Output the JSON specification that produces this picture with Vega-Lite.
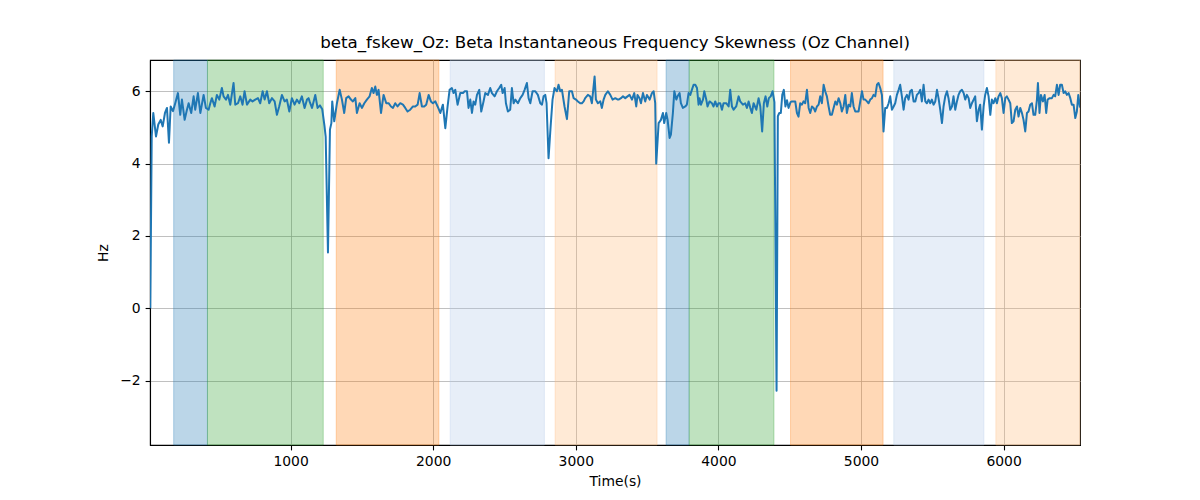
{
  "$schema": "https://vega.github.io/schema/vega-lite/v6.json",
  "width": 930,
  "height": 385,
  "autosize": "none",
  "padding": {"left": 150, "top": 60, "right": 120, "bottom": 55},
  "background": "white",
  "title": {"text": "beta_fskew_Oz: Beta Instantaneous Frequency Skewness (Oz Channel)", "font": "DejaVu Sans", "fontSize": 16.7, "fontWeight": "normal", "color": "#000", "anchor": "middle", "offset": 8},
  "config": {
    "view": {"stroke": "#000", "strokeWidth": 1.1},
    "axis": {"domainColor": "#000", "domainWidth": 1.1, "tickColor": "#000", "tickWidth": 1.1, "tickSize": 4.9, "labelPadding": 4.9, "labelColor": "#000", "titleColor": "#000", "labelFont": "DejaVu Sans", "titleFont": "DejaVu Sans", "labelFontSize": 13.9, "titleFontSize": 13.9, "titleFontWeight": "normal", "gridColor": "#b0b0b0", "gridWidth": 0.8}
  },
  "datasets": {
    "bands": [
      {"start": 180, "end": 417, "kind": "blue"},
      {"start": 417, "end": 1229, "kind": "green"},
      {"start": 1320, "end": 2040, "kind": "orange"},
      {"start": 2119, "end": 2780, "kind": "lightblue"},
      {"start": 2855, "end": 3570, "kind": "lightorange"},
      {"start": 3633, "end": 3795, "kind": "blue"},
      {"start": 3795, "end": 4390, "kind": "green"},
      {"start": 4506, "end": 5155, "kind": "orange"},
      {"start": 5230, "end": 5862, "kind": "lightblue"},
      {"start": 5946, "end": 6536, "kind": "lightorange"}
    ],
    "series": [
      {"t":16,"v":0.0},{"t":26,"v":4.75},{"t":37,"v":5.40},{"t":56,"v":4.75},{"t":72,"v":5.08},{"t":89,"v":5.21},{"t":103,"v":5.03},{"t":119,"v":5.40},{"t":133,"v":5.54},{"t":147,"v":4.58},{"t":159,"v":5.58},{"t":175,"v":5.45},{"t":191,"v":5.67},{"t":210,"v":5.95},{"t":226,"v":5.35},{"t":238,"v":5.77},{"t":257,"v":5.21},{"t":273,"v":5.49},{"t":285,"v":5.67},{"t":303,"v":5.40},{"t":320,"v":5.86},{"t":331,"v":5.49},{"t":350,"v":5.95},{"t":367,"v":5.40},{"t":390,"v":5.90},{"t":406,"v":5.54},{"t":425,"v":5.49},{"t":437,"v":5.67},{"t":448,"v":5.81},{"t":467,"v":5.58},{"t":483,"v":5.90},{"t":500,"v":5.77},{"t":518,"v":6.09},{"t":530,"v":5.86},{"t":547,"v":5.77},{"t":561,"v":5.90},{"t":577,"v":5.63},{"t":600,"v":6.23},{"t":612,"v":5.63},{"t":631,"v":5.67},{"t":647,"v":5.86},{"t":663,"v":5.63},{"t":677,"v":6.00},{"t":694,"v":5.63},{"t":717,"v":5.77},{"t":733,"v":5.72},{"t":752,"v":5.77},{"t":771,"v":5.81},{"t":787,"v":5.67},{"t":804,"v":6.00},{"t":818,"v":5.77},{"t":834,"v":6.00},{"t":850,"v":5.67},{"t":869,"v":5.81},{"t":888,"v":5.72},{"t":904,"v":5.35},{"t":920,"v":5.58},{"t":939,"v":5.90},{"t":958,"v":5.72},{"t":974,"v":5.77},{"t":991,"v":5.44},{"t":1009,"v":5.81},{"t":1028,"v":5.63},{"t":1044,"v":5.77},{"t":1061,"v":5.67},{"t":1079,"v":5.86},{"t":1098,"v":5.54},{"t":1115,"v":5.77},{"t":1126,"v":5.81},
      {"t":1133,"v":5.72},{"t":1150,"v":5.54},{"t":1173,"v":5.90},{"t":1189,"v":5.54},{"t":1206,"v":5.61},{"t":1222,"v":5.50},{"t":1238,"v":5.03},{"t":1246,"v":4.74},{"t":1262,"v":1.54},{"t":1276,"v":4.94},{"t":1286,"v":5.12},{"t":1292,"v":5.72},{"t":1306,"v":5.17},{"t":1325,"v":5.67},{"t":1344,"v":6.04},{"t":1360,"v":5.77},{"t":1376,"v":5.40},{"t":1390,"v":5.81},{"t":1407,"v":5.86},{"t":1423,"v":5.77},{"t":1437,"v":5.72},{"t":1454,"v":5.81},{"t":1465,"v":5.40},{"t":1484,"v":5.67},{"t":1500,"v":5.54},{"t":1517,"v":5.67},{"t":1535,"v":5.77},{"t":1554,"v":5.86},{"t":1570,"v":6.09},{"t":1582,"v":5.95},{"t":1594,"v":6.13},{"t":1605,"v":5.90},{"t":1617,"v":6.04},{"t":1634,"v":5.40},{"t":1652,"v":5.90},{"t":1671,"v":5.67},{"t":1687,"v":5.67},{"t":1704,"v":5.58},{"t":1718,"v":5.54},{"t":1734,"v":5.67},{"t":1750,"v":5.58},{"t":1769,"v":5.67},{"t":1788,"v":5.63},{"t":1804,"v":5.54},{"t":1820,"v":5.44},{"t":1839,"v":5.49},{"t":1858,"v":5.58},{"t":1874,"v":5.58},{"t":1891,"v":5.63},{"t":1905,"v":5.95},{"t":1921,"v":5.58},{"t":1937,"v":5.58},{"t":1951,"v":5.63},{"t":1968,"v":5.90},{"t":1984,"v":5.72},{"t":1998,"v":5.67},{"t":2015,"v":5.72},{"t":2031,"v":5.58},{"t":2050,"v":5.40},{"t":2068,"v":5.63},{"t":2085,"v":4.98},{"t":2101,"v":5.58},{"t":2115,"v":6.04},{"t":2131,"v":6.09},{"t":2143,"v":5.95},{"t":2155,"v":6.04},{"t":2171,"v":5.63},{"t":2190,"v":5.95},{"t":2209,"v":5.95},
      {"t":2220,"v":6.00},{"t":2237,"v":6.00},{"t":2248,"v":5.54},{"t":2260,"v":5.77},{"t":2272,"v":5.40},{"t":2283,"v":5.72},{"t":2295,"v":5.63},{"t":2307,"v":5.90},{"t":2323,"v":6.04},{"t":2337,"v":5.44},{"t":2353,"v":5.72},{"t":2365,"v":5.95},{"t":2384,"v":5.90},{"t":2400,"v":6.09},{"t":2412,"v":5.95},{"t":2431,"v":5.86},{"t":2447,"v":6.00},{"t":2463,"v":6.09},{"t":2477,"v":6.18},{"t":2487,"v":5.95},{"t":2501,"v":6.09},{"t":2510,"v":5.67},{"t":2524,"v":5.44},{"t":2540,"v":5.49},{"t":2552,"v":6.09},{"t":2564,"v":5.67},{"t":2576,"v":5.77},{"t":2594,"v":5.67},{"t":2611,"v":5.81},{"t":2627,"v":5.90},{"t":2641,"v":6.04},{"t":2657,"v":6.23},{"t":2669,"v":5.81},{"t":2681,"v":5.67},{"t":2697,"v":6.00},{"t":2716,"v":6.00},{"t":2734,"v":5.90},{"t":2751,"v":5.67},{"t":2763,"v":5.63},{"t":2774,"v":5.86},{"t":2786,"v":5.90},{"t":2795,"v":5.67},{"t":2809,"v":4.15},{"t":2823,"v":5.00},{"t":2837,"v":5.77},{"t":2851,"v":6.09},{"t":2868,"v":6.00},{"t":2879,"v":6.18},{"t":2891,"v":6.00},{"t":2903,"v":6.04},{"t":2921,"v":5.58},{"t":2938,"v":5.23},{"t":2954,"v":6.00},{"t":2973,"v":6.00},{"t":2985,"v":5.81},{"t":3001,"v":5.77},{"t":3015,"v":5.72},{"t":3031,"v":5.67},{"t":3043,"v":5.67},{"t":3055,"v":5.72},{"t":3066,"v":5.81},{"t":3085,"v":5.90},{"t":3101,"v":5.86},{"t":3113,"v":5.67},{"t":3132,"v":6.41},{"t":3141,"v":5.77},{"t":3155,"v":5.67},{"t":3172,"v":5.72},{"t":3183,"v":5.54},{"t":3195,"v":5.77},{"t":3207,"v":5.90},{"t":3225,"v":6.00},{"t":3242,"v":5.90},{"t":3258,"v":5.77},{"t":3277,"v":5.81},{"t":3295,"v":5.77},
      {"t":3300,"v":5.77},{"t":3317,"v":5.81},{"t":3331,"v":5.86},{"t":3347,"v":5.81},{"t":3363,"v":5.86},{"t":3377,"v":5.90},{"t":3394,"v":5.77},{"t":3410,"v":5.95},{"t":3424,"v":5.58},{"t":3433,"v":5.90},{"t":3447,"v":5.81},{"t":3457,"v":5.67},{"t":3471,"v":5.95},{"t":3487,"v":5.72},{"t":3499,"v":5.90},{"t":3518,"v":5.77},{"t":3534,"v":5.95},{"t":3546,"v":6.00},{"t":3557,"v":5.67},{"t":3564,"v":4.00},{"t":3581,"v":5.12},{"t":3597,"v":5.21},{"t":3611,"v":5.40},{"t":3620,"v":5.12},{"t":3634,"v":5.40},{"t":3644,"v":5.21},{"t":3658,"v":4.71},{"t":3667,"v":4.80},{"t":3681,"v":5.40},{"t":3691,"v":6.00},{"t":3705,"v":5.77},{"t":3714,"v":5.86},{"t":3728,"v":5.95},{"t":3737,"v":5.67},{"t":3751,"v":5.54},{"t":3768,"v":5.58},{"t":3779,"v":5.63},{"t":3791,"v":5.95},{"t":3803,"v":5.90},{"t":3814,"v":6.04},{"t":3826,"v":6.18},{"t":3838,"v":6.18},{"t":3850,"v":6.09},{"t":3861,"v":5.63},{"t":3868,"v":5.81},{"t":3878,"v":5.63},{"t":3892,"v":5.77},{"t":3901,"v":6.00},{"t":3915,"v":5.77},{"t":3924,"v":5.58},{"t":3938,"v":5.72},{"t":3955,"v":5.67},{"t":3966,"v":5.58},{"t":3978,"v":5.72},{"t":3990,"v":5.58},{"t":4001,"v":5.67},{"t":4013,"v":5.67},{"t":4025,"v":5.49},{"t":4036,"v":5.67},{"t":4055,"v":5.67},{"t":4072,"v":5.58},{"t":4083,"v":6.04},{"t":4095,"v":5.58},{"t":4107,"v":5.49},{"t":4125,"v":5.58},{"t":4142,"v":5.86},{"t":4153,"v":5.72},{"t":4172,"v":5.63},{"t":4188,"v":5.67},{"t":4200,"v":5.54},{"t":4212,"v":5.72},{"t":4224,"v":5.54},{"t":4235,"v":5.40},{"t":4247,"v":5.67},{"t":4266,"v":5.49},{"t":4282,"v":5.81},{"t":4294,"v":5.58},{"t":4307,"v":4.89},{"t":4319,"v":5.67},{"t":4331,"v":5.86},{"t":4343,"v":5.58},{"t":4354,"v":5.81},{"t":4367,"v":5.86},{"t":4380,"v":6.00},{"t":4393,"v":5.70},{"t":4408,"v":-2.28},{"t":4417,"v":5.31},{"t":4427,"v":5.40},{"t":4438,"v":5.40},{"t":4448,"v":5.90},{"t":4459,"v":6.04},{"t":4470,"v":5.58},{"t":4481,"v":5.75},{"t":4492,"v":5.54},{"t":4506,"v":5.70},
      {"t":4516,"v":5.72},{"t":4527,"v":5.72},{"t":4539,"v":5.72},{"t":4551,"v":5.40},{"t":4562,"v":5.30},{"t":4574,"v":5.67},{"t":4586,"v":5.63},{"t":4597,"v":5.72},{"t":4609,"v":5.67},{"t":4621,"v":6.04},{"t":4633,"v":5.54},{"t":4644,"v":5.40},{"t":4656,"v":5.58},{"t":4668,"v":5.54},{"t":4679,"v":5.44},{"t":4691,"v":5.58},{"t":4703,"v":5.63},{"t":4714,"v":5.86},{"t":4726,"v":5.67},{"t":4738,"v":6.18},{"t":4749,"v":6.00},{"t":4761,"v":5.86},{"t":4773,"v":5.58},{"t":4784,"v":5.35},{"t":4796,"v":5.35},{"t":4808,"v":5.54},{"t":4820,"v":5.72},{"t":4831,"v":5.63},{"t":4843,"v":5.81},{"t":4855,"v":5.67},{"t":4866,"v":5.44},{"t":4878,"v":5.58},{"t":4890,"v":5.90},{"t":4901,"v":5.40},{"t":4913,"v":5.63},{"t":4925,"v":5.58},{"t":4936,"v":5.95},{"t":4948,"v":5.58},{"t":4960,"v":5.44},{"t":4971,"v":5.44},{"t":4983,"v":5.44},{"t":4995,"v":5.72},{"t":5007,"v":6.00},{"t":5018,"v":5.77},{"t":5030,"v":5.77},{"t":5042,"v":5.72},{"t":5053,"v":5.67},{"t":5065,"v":5.77},{"t":5077,"v":5.81},{"t":5088,"v":5.90},{"t":5100,"v":5.86},{"t":5112,"v":6.18},{"t":5123,"v":6.23},{"t":5135,"v":6.09},{"t":5147,"v":5.90},{"t":5158,"v":4.89},{"t":5170,"v":5.54},{"t":5182,"v":5.54},{"t":5194,"v":5.67},{"t":5205,"v":5.86},{"t":5217,"v":5.49},{"t":5229,"v":5.58},{"t":5240,"v":5.67},{"t":5252,"v":5.90},{"t":5264,"v":6.04},{"t":5275,"v":6.18},{"t":5287,"v":5.86},{"t":5299,"v":5.49},{"t":5310,"v":5.81},{"t":5322,"v":5.90},{"t":5334,"v":5.77},{"t":5345,"v":6.00},{"t":5357,"v":6.04},{"t":5369,"v":5.72},{"t":5381,"v":5.72},{"t":5392,"v":5.90},{"t":5404,"v":5.95},{"t":5416,"v":6.04},{"t":5427,"v":5.72},{"t":5439,"v":6.18},{"t":5451,"v":5.72},{"t":5462,"v":5.67},{"t":5474,"v":5.77},
      {"t":5486,"v":5.67},{"t":5497,"v":5.77},{"t":5509,"v":5.63},{"t":5521,"v":5.72},{"t":5533,"v":6.04},{"t":5544,"v":5.81},{"t":5556,"v":5.49},{"t":5568,"v":5.12},{"t":5579,"v":5.58},{"t":5591,"v":5.86},{"t":5603,"v":6.00},{"t":5614,"v":5.81},{"t":5626,"v":5.49},{"t":5638,"v":5.58},{"t":5649,"v":5.86},{"t":5661,"v":5.49},{"t":5673,"v":5.72},{"t":5684,"v":5.90},{"t":5696,"v":6.00},{"t":5708,"v":6.04},{"t":5720,"v":5.95},{"t":5731,"v":5.77},{"t":5743,"v":5.90},{"t":5755,"v":5.81},{"t":5766,"v":5.54},{"t":5778,"v":5.67},{"t":5790,"v":5.77},{"t":5801,"v":5.86},{"t":5813,"v":5.17},{"t":5825,"v":5.49},{"t":5836,"v":5.63},{"t":5848,"v":4.94},{"t":5860,"v":5.58},{"t":5871,"v":5.90},{"t":5883,"v":6.09},{"t":5895,"v":5.86},{"t":5907,"v":5.35},{"t":5918,"v":5.77},{"t":5930,"v":5.67},{"t":5942,"v":5.81},{"t":5953,"v":5.67},{"t":5965,"v":5.86},{"t":5977,"v":5.95},{"t":5988,"v":5.81},{"t":6000,"v":5.40},{"t":6012,"v":5.81},{"t":6023,"v":5.86},{"t":6035,"v":5.77},{"t":6047,"v":5.67},{"t":6058,"v":5.12},{"t":6070,"v":5.17},{"t":6082,"v":5.49},{"t":6094,"v":5.58},{"t":6105,"v":5.30},{"t":6117,"v":5.54},{"t":6129,"v":5.40},{"t":6140,"v":5.21},{"t":6152,"v":4.89},{"t":6164,"v":5.40},{"t":6175,"v":5.44},{"t":6187,"v":5.63},{"t":6199,"v":5.67},{"t":6210,"v":5.35},{"t":6222,"v":5.35},{"t":6234,"v":5.77},{"t":6241,"v":6.23},{"t":6252,"v":5.40},{"t":6262,"v":5.90},{"t":6276,"v":5.72},{"t":6288,"v":5.90},{"t":6299,"v":5.40},{"t":6309,"v":5.77},{"t":6323,"v":5.81},{"t":6339,"v":5.81},{"t":6351,"v":5.90},{"t":6362,"v":5.86},{"t":6374,"v":6.18},{"t":6386,"v":5.90},{"t":6397,"v":6.18},{"t":6409,"v":6.18},{"t":6421,"v":5.95},{"t":6432,"v":6.00},{"t":6444,"v":5.90},{"t":6456,"v":5.95},{"t":6468,"v":5.81},{"t":6479,"v":5.63},{"t":6491,"v":5.63},{"t":6503,"v":5.26},{"t":6514,"v":5.44},{"t":6524,"v":5.90},{"t":6536,"v":5.55}
    ]
  },
  "layer": [
    {
      "data": {"name": "bands"},
      "mark": {"type": "rect", "fillOpacity": 0.3, "strokeOpacity": 0.3, "strokeWidth": 1},
      "encoding": {
        "x": {"field": "start", "type": "quantitative", "scale": {"domain": [14, 6536], "nice": false, "zero": false}, "axis": {"title": "Time(s)", "values": [1000, 2000, 3000, 4000, 5000, 6000], "format": "d", "grid": true, "titlePadding": 6}},
        "x2": {"field": "end"},
        "fill": {"field": "kind", "type": "nominal", "legend": null, "scale": {"domain": ["blue", "green", "orange", "lightblue", "lightorange"], "range": ["#1f77b4", "#2ca02c", "#ff7f0e", "#aec7e8", "#ffbb78"]}},
        "stroke": {"field": "kind", "type": "nominal", "legend": null, "scale": {"domain": ["blue", "green", "orange", "lightblue", "lightorange"], "range": ["#1f77b4", "#2ca02c", "#ff7f0e", "#aec7e8", "#ffbb78"]}}
      }
    },
    {
      "data": {"name": "series"},
      "mark": {"type": "line", "color": "#1f77b4", "strokeWidth": 2, "strokeJoin": "round", "clip": true},
      "encoding": {
        "x": {"field": "t", "type": "quantitative", "scale": {"domain": [14, 6536], "nice": false, "zero": false}, "axis": {"title": "Time(s)", "values": [1000, 2000, 3000, 4000, 5000, 6000], "format": "d", "grid": true, "titlePadding": 6}},
        "y": {"field": "v", "type": "quantitative", "scale": {"domain": [-3.78, 6.865], "nice": false, "zero": false}, "axis": {"title": "Hz", "values": [-2, 0, 2, 4, 6], "grid": true, "titlePadding": 9}}
      }
    }
  ]
}
